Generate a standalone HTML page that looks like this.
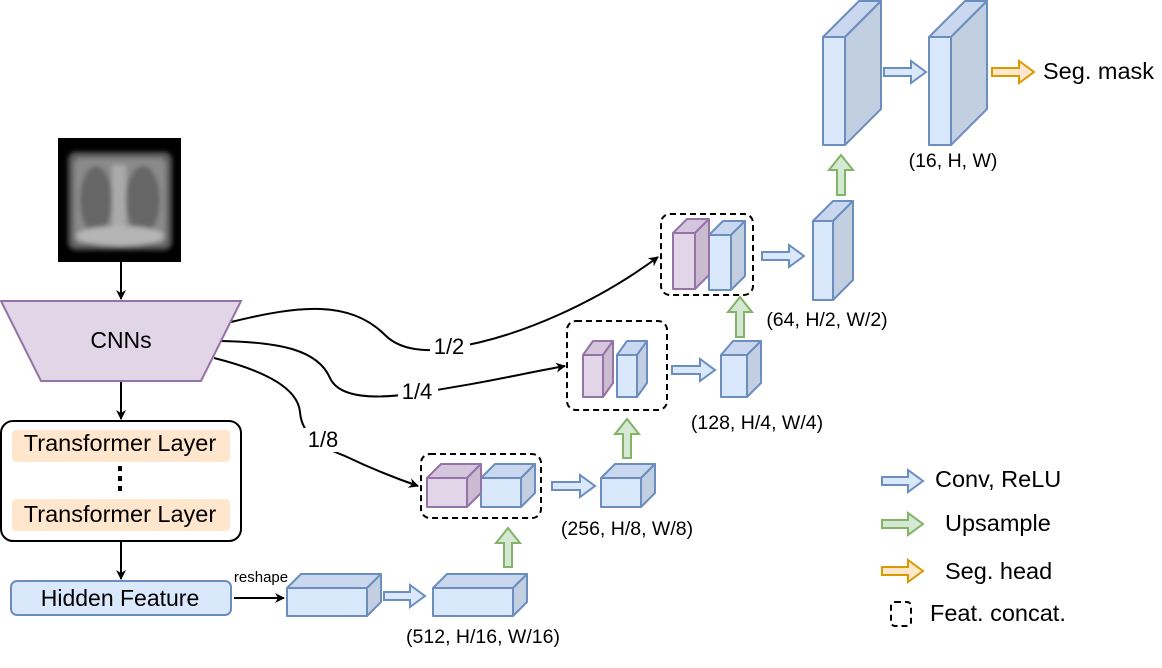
<!DOCTYPE html>
<html><head><meta charset="utf-8"><style>html,body{margin:0;padding:0;background:#fff}svg{display:block}text{font-family:"Liberation Sans",sans-serif;fill:#000}</style></head>
<body>
<svg width="1162" height="668" viewBox="0 0 1162 668" xmlns="http://www.w3.org/2000/svg">
<defs>
<filter id="bl"><feGaussianBlur stdDeviation="2.5"/></filter>
<marker id="ah" markerWidth="10" markerHeight="10" refX="9" refY="5" orient="auto" markerUnits="userSpaceOnUse"><path d="M0,0 L10,5 L0,10 L3,5 Z" fill="#000"/></marker>
</defs>

<!-- xray -->
<rect x="58" y="138" width="123" height="124" fill="#000"/>
<g filter="url(#bl)">
<rect x="68" y="152" width="104" height="98" rx="8" fill="#5c5c5c"/>
<rect x="74" y="158" width="92" height="86" rx="6" fill="#8a8a8a"/>
<ellipse cx="96" cy="200" rx="16" ry="34" fill="#666"/>
<ellipse cx="143" cy="200" rx="17" ry="34" fill="#666"/>
<rect x="112" y="165" width="14" height="70" fill="#aaa"/>
<ellipse cx="120" cy="236" rx="44" ry="10" fill="#b5b5b5"/>
</g>

<g stroke="#000" stroke-width="2" fill="none">
<line x1="121" y1="262" x2="121" y2="299" marker-end="url(#ah)"/>
<line x1="121" y1="381" x2="121" y2="419" marker-end="url(#ah)"/>
<line x1="121" y1="541" x2="121" y2="579" marker-end="url(#ah)"/>
<line x1="234" y1="598" x2="284" y2="598" marker-end="url(#ah)"/>
<path d="M231 322 C300 305 350 300 385 335 C405 355 440 350 450 348 C520 338 600 300 658 257" marker-end="url(#ah)"/>
<path d="M221 341 C280 342 318 350 330 378 C340 400 380 398 410 394 C480 384 520 374 565 366" marker-end="url(#ah)"/>
<path d="M214 358 C270 372 298 390 300 412 C302 440 330 450 345 456 C370 468 395 478 418 486" marker-end="url(#ah)"/>
</g>
<rect x="430" y="335" width="40" height="24" fill="#fff"/>
<text x="449" y="354" font-size="22" text-anchor="middle">1/2</text>
<rect x="398" y="380" width="40" height="24" fill="#fff"/>
<text x="417" y="399" font-size="22" text-anchor="middle">1/4</text>
<rect x="303" y="428" width="40" height="24" fill="#fff"/>
<text x="323" y="447" font-size="22" text-anchor="middle">1/8</text>

<!-- CNN -->
<polygon points="1,301 241,301 201,381 41,381" fill="#e1d5e7" stroke="#9673a6" stroke-width="2"/>
<text x="121" y="348" font-size="23" text-anchor="middle">CNNs</text>

<!-- Transformer -->
<rect x="1" y="421" width="240" height="120" rx="12" fill="#fff" stroke="#000" stroke-width="2"/>
<rect x="12" y="430" width="218" height="32" rx="4" fill="#ffe6cc"/>
<rect x="12" y="499" width="218" height="32" rx="4" fill="#ffe6cc"/>
<text x="120" y="451" font-size="23.5" text-anchor="middle">Transformer Layer</text>
<text x="120" y="522" font-size="23.5" text-anchor="middle">Transformer Layer</text>
<g fill="#000"><rect x="118" y="466" width="4" height="5"/><rect x="118" y="476" width="4" height="5"/><rect x="118" y="486" width="4" height="5"/></g>

<rect x="11" y="581" width="220" height="34" rx="6" fill="#dae8fc" stroke="#6c8ebf" stroke-width="2"/>
<text x="120" y="606" font-size="23" text-anchor="middle">Hidden Feature</text>
<text x="261" y="582" font-size="15" text-anchor="middle">reshape</text>

<!-- dashed boxes -->
<g fill="none" stroke="#000" stroke-width="2" stroke-dasharray="6,4">
<rect x="421" y="454" width="120" height="64" rx="9"/>
<rect x="567" y="321" width="100" height="89" rx="9"/>
<rect x="661" y="214" width="92" height="81" rx="9"/>
<rect x="891" y="602" width="20" height="24" rx="4"/>
</g>

<!-- cubes -->
<g stroke-width="2" stroke-linejoin="round">
<g fill="#dae8fc" stroke="#6c8ebf">
<polygon points="287,588 301,574 381,574 367,588" fill="#c9d8ee"/><polygon points="367,588 381,574 381,602 367,616" fill="#c2cfe0"/><rect x="287" y="588" width="80" height="28"/>
<polygon points="433,588 447,574 527,574 513,588" fill="#c9d8ee"/><polygon points="513,588 527,574 527,602 513,616" fill="#c2cfe0"/><rect x="433" y="588" width="80" height="28"/>
<polygon points="481,478 495,464 535,464 521,478" fill="#c9d8ee"/><polygon points="521,478 535,464 535,493 521,507" fill="#c2cfe0"/><rect x="481" y="478" width="40" height="29"/>
<polygon points="601,478 615,464 655,464 641,478" fill="#c9d8ee"/><polygon points="641,478 655,464 655,493 641,507" fill="#c2cfe0"/><rect x="601" y="478" width="40" height="29"/>
<polygon points="617,355 627,341 647,341 637,355" fill="#c9d8ee"/><polygon points="637,355 647,341 647,383 637,397" fill="#c2cfe0"/><rect x="617" y="355" width="20" height="42"/>
<polygon points="721,355 733,341 761,341 747,355" fill="#c9d8ee"/><polygon points="747,355 761,341 761,383 747,397" fill="#c2cfe0"/><rect x="721" y="355" width="26" height="42"/>
<polygon points="709,235 723,221 745,221 731,235" fill="#c9d8ee"/><polygon points="731,235 745,221 745,276 731,290" fill="#c2cfe0"/><rect x="709" y="235" width="22" height="55"/>
<polygon points="813,221 833,201 853,201 833,221" fill="#c9d8ee"/><polygon points="833,221 853,201 853,280 833,300" fill="#c2cfe0"/><rect x="813" y="221" width="20" height="79"/>
<polygon points="823,37 859,1 881,1 845,37" fill="#c9d8ee"/><polygon points="845,37 881,1 881,109 845,145" fill="#c2cfe0"/><rect x="823" y="37" width="22" height="108"/>
<polygon points="929,37 965,1 987,1 951,37" fill="#c9d8ee"/><polygon points="951,37 987,1 987,109 951,145" fill="#c2cfe0"/><rect x="929" y="37" width="22" height="108"/>
</g>
<g fill="#e1d5e7" stroke="#9673a6">
<polygon points="427,478 441,464 481,464 467,478" fill="#d6c6dd"/><polygon points="467,478 481,464 481,493 467,507" fill="#cbbbd0"/><rect x="427" y="478" width="40" height="29"/>
<polygon points="583,355 593,341 613,341 603,355" fill="#d6c6dd"/><polygon points="603,355 613,341 613,383 603,397" fill="#cbbbd0"/><rect x="583" y="355" width="20" height="42"/>
<polygon points="673,233 687,219 709,219 695,233" fill="#d6c6dd"/><polygon points="695,233 709,219 709,275 695,289" fill="#cbbbd0"/><rect x="673" y="233" width="22" height="56"/>
</g>
</g>

<!-- block arrows -->
<g stroke-width="2" stroke-linejoin="miter">
<g fill="#dae8fc" stroke="#6c8ebf">
<polygon points="384,592 410,592 410,585 425,596 410,607 410,600 384,600"/>
<polygon points="552,482 580,482 580,475 595,486 580,497 580,490 552,490"/>
<polygon points="672,366 700,366 700,359 715,370 700,381 700,374 672,374"/>
<polygon points="762,252 789,252 789,245 804,256 789,267 789,260 762,260"/>
<polygon points="884,68 911,68 911,61 926,72 911,83 911,76 884,76"/>
<polygon points="882,477 908,477 908,470 923,481 908,492 908,485 882,485"/>
</g>
<g fill="#d5e8d4" stroke="#82b366">
<polygon points="504,567 504,543 496,543 508,528 520,543 512,543 512,567"/>
<polygon points="623,458 623,434 615,434 627,419 639,434 631,434 631,458"/>
<polygon points="736,337 736,312 728,312 740,297 752,312 744,312 744,337"/>
<polygon points="837,195 837,170 829,170 841,155 853,170 845,170 845,195"/>
<polygon points="882,520 908,520 908,513 923,524 908,535 908,528 882,528"/>
</g>
<g fill="#ffe6cc" stroke="#d79b00">
<polygon points="992,68 1019,68 1019,61 1034,72 1019,83 1019,76 992,76"/>
<polygon points="882,567 908,567 908,560 923,571 908,582 908,575 882,575"/>
</g>
</g>

<!-- labels -->
<g font-size="19.5" text-anchor="middle">
<text x="483" y="643">(512, H/16, W/16)</text>
<text x="627" y="535">(256, H/8, W/8)</text>
<text x="757" y="429">(128, H/4, W/4)</text>
<text x="827" y="326">(64, H/2, W/2)</text>
<text x="953" y="167">(16, H, W)</text>
</g>
<g font-size="23.5">
<text x="1043" y="79">Seg. mask</text>
<text x="935" y="487">Conv, ReLU</text>
<text x="945" y="531">Upsample</text>
<text x="945" y="579">Seg. head</text>
<text x="930" y="621">Feat. concat.</text>
</g>
</svg>
</body></html>
